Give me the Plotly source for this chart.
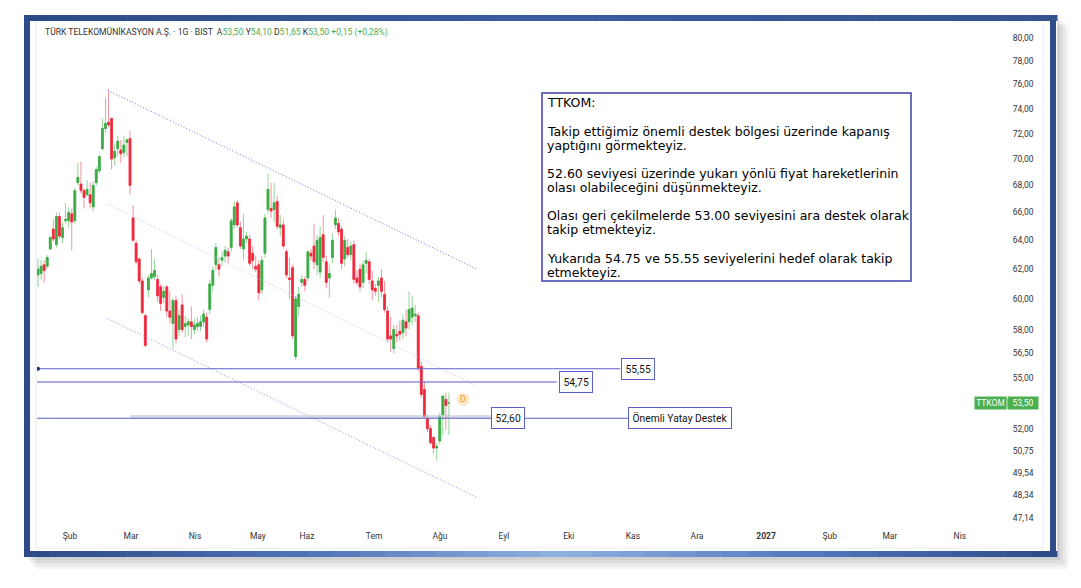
import numpy as np
import plotly.graph_objects as go

# daily candles, index 0 = first bar on the left (late Jan 2026)
opens = [61.6, 61.7, 62.3, 62.2, 63.4, 64.8, 63.7, 65.7, 64.2, 65.4,
         65.4, 65.9, 65.4, 68.2, 68.1, 67.6, 67.3, 67.3, 66.4, 68.2,
         69.1, 70.8, 72.4, 72.9, 73.2, 70.1, 70.8, 70.7, 70.5, 71.3,
         71.6, 65.6, 63.8, 62.7, 61.2, 58.9, 60.6, 61.4, 61.5, 61.3,
         60.8, 60.1, 60.8, 59.2, 58.4, 59.9, 58.0, 59.6, 58.2, 58.3,
         58.5, 58.0, 58.2, 58.2, 58.5, 58.8, 59.3, 60.9, 62.3, 62.3,
         62.6, 62.9, 63.2, 63.5, 65.1, 66.7, 64.9, 63.4, 64.1, 64.1,
         63.1, 62.2, 62.3, 60.6, 63.1, 66.2, 66.3, 66.2, 66.8, 64.9,
         65.1, 63.2, 61.4, 62.1, 56.3, 59.5, 61.1, 61.3, 61.4, 63.1,
         63.6, 62.3, 61.8, 64.4, 62.5, 61.4, 62.8, 65.1, 65.2, 64.8,
         62.7, 63.5, 63.0, 63.7, 61.4, 62.0, 61.1, 62.4, 62.5, 61.2,
         60.7, 60.9, 61.4, 60.3, 59.2, 57.6, 56.8, 57.7, 57.9, 57.8,
         58.5, 58.5, 58.8, 58.9, 58.9, 55.7, 54.3, 52.6, 52.0, 51.5,
         50.9, 51.3, 52.8, 53.7, 53.5]
highs = [62.7, 62.6, 62.6, 63.0, 64.3, 65.5, 66.0, 66.0, 65.3, 66.7,
         66.4, 66.3, 67.8, 69.7, 69.8, 67.8, 68.4, 68.2, 68.3, 69.4,
         70.3, 73.2, 74.9, 75.6, 73.3, 71.2, 71.8, 71.5, 71.8, 71.6,
         72.2, 66.5, 64.0, 62.8, 61.4, 59.0, 61.6, 63.4, 62.7, 61.6,
         61.0, 60.9, 60.9, 60.5, 60.1, 60.2, 59.3, 60.3, 58.9, 58.7,
         59.5, 58.7, 58.8, 58.9, 59.3, 59.1, 61.3, 62.2, 63.8, 62.8,
         63.2, 63.6, 63.5, 65.6, 66.8, 66.9, 65.3, 65.9, 64.6, 64.4,
         63.6, 62.9, 62.6, 62.9, 65.9, 68.9, 68.2, 68.2, 67.2, 65.8,
         65.5, 63.4, 62.8, 62.3, 60.2, 60.8, 61.6, 61.5, 63.3, 63.4,
         65.2, 64.4, 65.0, 65.8, 62.9, 62.3, 64.5, 66.2, 65.6, 65.0,
         64.3, 64.1, 63.9, 64.0, 61.9, 62.4, 62.6, 63.2, 62.7, 61.9,
         61.0, 61.5, 62.0, 61.2, 59.5, 58.8, 58.3, 58.3, 58.6, 59.0,
         59.3, 60.5, 60.2, 59.6, 59.1, 56.0, 54.8, 52.8, 52.2, 51.6,
         51.2, 52.9, 54.0, 54.1, 54.1]
lows = [60.8, 61.3, 61.1, 62.0, 63.3, 63.9, 63.5, 64.1, 63.8, 65.2,
        64.9, 63.3, 65.2, 68.0, 67.4, 66.3, 67.2, 66.3, 66.1, 68.0,
        68.9, 70.7, 72.1, 72.5, 69.2, 69.5, 70.2, 69.7, 70.1, 70.2,
        67.3, 63.9, 62.3, 61.0, 59.0, 56.9, 60.1, 61.3, 61.3, 59.8,
        59.2, 59.7, 58.8, 58.4, 56.8, 57.1, 57.6, 57.8, 57.5, 57.6,
        57.4, 57.7, 57.9, 57.9, 58.2, 57.2, 59.0, 60.5, 61.9, 61.5,
        62.2, 62.5, 62.4, 63.2, 64.8, 64.9, 63.4, 62.6, 63.8, 62.2,
        62.0, 61.8, 59.9, 60.3, 62.8, 65.9, 65.6, 65.3, 64.8, 64.3,
        63.4, 61.4, 60.0, 57.4, 56.1, 58.9, 60.8, 60.5, 61.2, 62.6,
        62.0, 61.6, 61.4, 62.5, 60.7, 60.1, 62.4, 64.8, 64.3, 62.0,
        62.2, 62.8, 62.6, 61.0, 60.9, 60.5, 60.7, 61.7, 61.0, 59.9,
        60.2, 59.8, 60.1, 59.1, 57.2, 56.6, 56.5, 57.2, 57.3, 57.4,
        57.6, 58.0, 58.3, 58.5, 55.4, 53.8, 52.6, 51.8, 51.1, 50.6,
        50.2, 51.1, 51.6, 51.9, 51.65]
closes = [62.0, 62.2, 61.9, 62.8, 64.2, 64.1, 65.7, 64.3, 64.9, 65.5,
          66.0, 65.3, 67.6, 68.6, 67.6, 67.1, 67.7, 66.7, 68.0, 69.2,
          70.2, 72.4, 72.8, 72.7, 70.0, 70.6, 71.4, 70.4, 71.1, 71.5,
          68.0, 64.0, 62.5, 61.2, 59.1, 57.0, 61.4, 61.7, 61.9, 60.2,
          59.7, 60.5, 59.2, 58.8, 59.9, 57.4, 58.9, 58.0, 58.4, 58.5,
          58.2, 58.3, 58.4, 58.5, 59.0, 57.4, 61.0, 61.9, 63.5, 62.0,
          62.8, 63.3, 62.9, 65.4, 66.4, 65.1, 63.6, 64.1, 64.3, 62.4,
          62.6, 62.0, 60.4, 62.6, 65.6, 67.7, 66.1, 66.7, 65.0, 65.1,
          63.6, 61.6, 61.3, 57.6, 60.0, 60.3, 61.3, 60.9, 63.2, 62.9,
          62.5, 64.0, 64.2, 62.8, 61.1, 61.7, 64.0, 65.6, 64.6, 62.4,
          64.0, 63.0, 63.6, 61.3, 61.1, 60.8, 62.3, 62.6, 61.3, 60.6,
          60.5, 61.2, 60.5, 59.3, 57.4, 57.4, 58.0, 57.6, 57.7, 58.6,
          58.1, 59.3, 59.4, 59.0, 55.6, 54.0, 52.7, 52.0, 51.2, 50.9,
          51.0, 52.7, 53.9, 53.35, 53.5]

month_ticks = [10.4, 30.3, 51.2, 71.7, 87.7, 109.6, 131.1, 151.9, 173.1,
               194.0, 214.9, 237.4, 258.2, 277.8, 300.6]
month_labels = ["Şub", "Mar", "Nis", "May", "Haz", "Tem", "Ağu", "Eyl", "Eki",
                "Kas", "Ara", "<b>2027</b>", "Şub", "Mar", "Nis"]

price_ticks = [80, 78, 76, 74, 72, 70, 68, 66, 64, 62, 60, 58, 56.5, 55,
               52, 50.75, 49.54, 48.34, 47.14]

# drawn levels / channel
levels = [55.55, 54.75, 52.60]
level_names = ["55,55", "54,75", "52,60"]
channel_x = [22.8, 143.1]
channel_upper = [75.5, 62.0]
channel_mid = [66.6, 54.5]
channel_lower = [58.7, 48.2]
zone_price = 52.70
last_price = 53.50
div_x = [138.6]
div_y = [53.7]

note_lines = ["TTKOM:", "",
              "Takip ettiğimiz önemli destek bölgesi üzerinde kapanış",
              "yaptığını görmekteyiz.", "",
              "52.60 seviyesi üzerinde yukarı yönlü fiyat hareketlerinin",
              "olası olabileceğini düşünmekteyiz.", "",
              "Olası geri çekilmelerde 53.00 seviyesini ara destek olarak",
              "takip etmekteyiz.", "",
              "Yukarıda 54.75 ve 55.55 seviyelerini hedef olarak takip",
              "etmekteyiz."]

UP, DOWN = "#3dab46", "#f0283c"
LINE = "#5b5fc7"

# the page body adds an 8px margin, so the figure is drawn 8px smaller and
# everything below is given in screenshot pixels; plot area x 37..1000, y 22..525
OFF = 8


def px_x(p):
    return (p - 37) / 963


def px_y(p):
    return (525 - p) / 503


idx = list(range(len(opens)))
fig = go.Figure()

# pale wicks, then solid bodies on top
fig.add_trace(go.Candlestick(x=idx, open=opens, high=highs, low=lows, close=closes,
                             increasing=dict(line=dict(color="#93d598", width=1), fillcolor="#93d598"),
                             decreasing=dict(line=dict(color="#f7939d", width=1), fillcolor="#f7939d"),
                             whiskerwidth=0, hoverinfo="skip"))
fig.add_trace(go.Candlestick(x=idx, open=opens, high=opens, low=opens, close=closes,
                             increasing=dict(line=dict(color=UP, width=0.6), fillcolor=UP),
                             decreasing=dict(line=dict(color=DOWN, width=0.6), fillcolor=DOWN),
                             whiskerwidth=0, hoverinfo="skip"))

# channel (fine dotted)
fig.add_trace(go.Scatter(x=channel_x, y=channel_upper, mode="lines",
                         line=dict(color="#7477d8", width=1, dash="1px,2px")))
fig.add_trace(go.Scatter(x=channel_x, y=channel_mid, mode="lines",
                         line=dict(color="#bfc1ee", width=1, dash="1px,2px")))
fig.add_trace(go.Scatter(x=channel_x, y=channel_lower, mode="lines",
                         line=dict(color="#8e91e0", width=1, dash="1px,2px")))

# faint zone line
fig.add_trace(go.Scatter(x=[30, 148], y=[zone_price, zone_price], mode="lines",
                         line=dict(color="rgba(190,192,215,0.55)", width=3)))

# horizontal levels, each ending at its label
level_end = [189.8, 169.2, 192.4]
level_lab_x = [195.5, 175.3, 153.4]
for lv, xe in zip(levels, level_end):
    fig.add_trace(go.Scatter(x=[-0.33, xe], y=[lv, lv], mode="lines",
                             line=dict(color=LINE, width=1.1)))
fig.add_trace(go.Scatter(x=[0.0], y=[levels[0]], mode="markers",
                         marker=dict(size=4, color="#1f2a8a")))

# dividend marker
fig.add_trace(go.Scatter(x=div_x, y=div_y, mode="markers+text", text=["D"],
                         textposition="middle center",
                         textfont=dict(color="#f7931e", size=9, family="Roboto"),
                         marker=dict(size=13, color="#fde8cc")))

annotations = []
for lv, name, xl in zip(levels, level_names, level_lab_x):
    annotations.append(dict(x=xl, y=np.log10(lv), xref="x", yref="y", text=name,
                            showarrow=False, bgcolor="white", bordercolor=LINE,
                            borderwidth=1, borderpad=3.5,
                            font=dict(size=10.3, color="#111", family="Roboto")))
annotations.append(dict(x=209.2, y=np.log10(levels[2]), xref="x", yref="y",
                        text="Önemli Yatay Destek", showarrow=False, bgcolor="white",
                        bordercolor=LINE, borderwidth=1, borderpad=3.5,
                        font=dict(size=10.3, color="#111", family="Roboto")))

# last price tag on the price scale
annotations.append(dict(x=px_x(990.5), y=np.log10(last_price), xref="paper", yref="y",
                        xanchor="center", yanchor="middle",
                        text="TTKOM", showarrow=False, bgcolor="#4caf50",
                        width=28, height=9, borderpad=1.5,
                        font=dict(size=8.5, color="white", family="Roboto")))
annotations.append(dict(x=px_x(1022.5), y=np.log10(last_price), xref="paper", yref="y",
                        xanchor="center", yanchor="middle",
                        text="53,50", showarrow=False, bgcolor="#4caf50",
                        width=27, height=9, borderpad=1.5,
                        font=dict(size=8.5, color="white", family="Roboto")))

# header
g = "<span style='color:#4caf50'>%s</span>"
header = ("TÜRK TELEKOMÜNİKASYON A.Ş. · 1G · BIST  A" + g % "53,50" + " Y" + g % "54,10"
          + " D" + g % "51,65" + " K" + g % "53,50" + " " + g % "+0,15 (+0,28%)")
annotations.append(dict(x=px_x(43), y=px_y(33), xref="paper", yref="paper", text=header,
                        showarrow=False, xanchor="left", yanchor="middle",
                        font=dict(size=8.6, color="#333", family="Roboto")))

# comment box text, one annotation per line for a tight leading
for k, line in enumerate(note_lines):
    if line:
        annotations.append(dict(x=px_x(545), y=px_y(103 + 14.1 * k), xref="paper", yref="paper",
                                text=line, showarrow=False, xanchor="left", yanchor="middle",
                                font=dict(size=12.5, color="black", family="DejaVu Sans")))

shapes = []
# drop shadow
for k, a in enumerate([0.05, 0.05, 0.05, 0.04]):
    o = 3 + k * 3
    shapes.append(dict(type="rect", xref="paper", yref="paper", layer="below",
                       x0=px_x(24 + o), x1=px_x(1057 + o), y0=px_y(557 + o), y1=px_y(15 + o),
                       line=dict(width=0), fillcolor="rgba(0,0,0,%s)" % a))
# white panel
shapes.append(dict(type="rect", xref="paper", yref="paper", layer="below",
                   x0=px_x(24), x1=px_x(1057), y0=px_y(557), y1=px_y(15),
                   line=dict(width=0), fillcolor="white"))
# light panel borders
for x0, y0, x1, y1 in [(36, 21, 36, 548), (36, 548, 1043, 548), (1043, 21, 1043, 548)]:
    shapes.append(dict(type="line", xref="paper", yref="paper", layer="below",
                       x0=px_x(x0), y0=px_y(y0), x1=px_x(x1), y1=px_y(y1),
                       line=dict(color="#ececec", width=1)))
# divider inside the price tag
shapes.append(dict(type="line", xref="paper", yref="y", x0=px_x(1007), x1=px_x(1007),
                   y0=53.25, y1=53.75, line=dict(color="#8fd493", width=1)))


def mix(c1, c2, t):
    a = [int(c1[i:i + 2], 16) for i in (1, 3, 5)]
    b = [int(c2[i:i + 2], 16) for i in (1, 3, 5)]
    return "#%02x%02x%02x" % tuple(round(a[i] + (b[i] - a[i]) * t) for i in range(3))


def grad(stops, p):
    for (p0, c0), (p1, c1) in zip(stops[:-1], stops[1:]):
        if p0 <= p <= p1:
            return mix(c0, c1, (p - p0) / (p1 - p0))
    return stops[-1][1]


navy = "#2c4a85"
# left / right sides
shapes.append(dict(type="line", xref="paper", yref="paper", x0=px_x(27), x1=px_x(27),
                   y0=px_y(15), y1=px_y(557), line=dict(color=navy, width=6)))
shapes.append(dict(type="line", xref="paper", yref="paper", x0=px_x(1053), x1=px_x(1053),
                   y0=px_y(15), y1=px_y(557), line=dict(color="#2e4c86", width=6)))
top_stops = [(24, navy), (540, "#3a5d9f"), (1057, "#33528e")]
bot_stops = [(24, navy), (300, "#4d72b4"), (560, "#8fb1e2"), (820, "#4f75bb"), (1057, navy)]
edges = np.linspace(24, 1057, 41)
for a, b in zip(edges[:-1], edges[1:]):
    m = (a + b) / 2
    shapes.append(dict(type="line", xref="paper", yref="paper", x0=px_x(a), x1=px_x(b + 0.5),
                       y0=px_y(18), y1=px_y(18), line=dict(color=grad(top_stops, m), width=6)))
    shapes.append(dict(type="line", xref="paper", yref="paper", x0=px_x(a), x1=px_x(b + 0.5),
                       y0=px_y(554), y1=px_y(554), line=dict(color=grad(bot_stops, m), width=6)))

# comment box
shapes.append(dict(type="rect", xref="paper", yref="paper",
                   x0=px_x(542), x1=px_x(911), y0=px_y(281), y1=px_y(93),
                   line=dict(color="#3d41a6", width=1.5), fillcolor="white", layer="below"))

W, H = 1081 - OFF, 588 - OFF
fig.update_layout(
    width=W, height=H,
    margin=dict(l=37 - OFF, r=W - (1000 - OFF), t=22 - OFF, b=H - (525 - OFF)),
    paper_bgcolor="white", plot_bgcolor="rgba(0,0,0,0)",
    showlegend=False, boxmode="overlay", boxgap=0.12,
    annotations=annotations, shapes=shapes,
    xaxis=dict(range=[-0.33, 313.7], rangeslider=dict(visible=False),
               tickvals=month_ticks, ticktext=month_labels, showgrid=False,
               zeroline=False, showline=False, ticks="outside", ticklen=3,
               tickcolor="rgba(0,0,0,0)",
               tickfont=dict(size=8.5, color="#333", family="Roboto")),
    yaxis=dict(type="log", range=[np.log10(46.76), np.log10(81.42)], side="right",
               tickvals=price_ticks,
               ticktext=[("%.2f" % v).replace(".", ",") for v in price_ticks],
               showgrid=False, zeroline=False, showline=False,
               ticks="outside", ticklen=10, tickcolor="rgba(0,0,0,0)",
               tickfont=dict(size=8.5, color="#333", family="Roboto")),
)

fig.write_html("out.html")
